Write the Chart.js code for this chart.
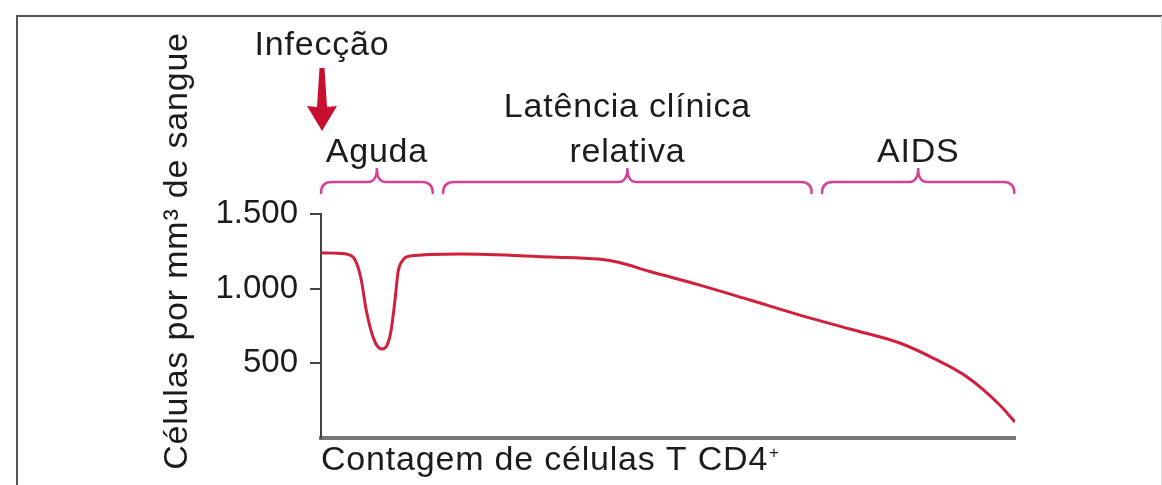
<!DOCTYPE html>
<html>
<head>
<meta charset="utf-8">
<script src="https://cdn.jsdelivr.net/npm/chart.js@4.4.1/dist/chart.umd.min.js"></script>
<style>
  html, body { margin: 0; padding: 0; background: #fff; }
  #wrap { width: 1162px; height: 485px; position: relative; }
</style>
</head>
<body>
<div id="wrap"><canvas id="chart"></canvas></div>
<script>
// tempo after infection (arbitrary units, axis has no ticks) and CD4 count
const tempo = [0, 2, 4.2, 5, 5.8, 6.5, 7.4, 8.2, 8.8, 9.5, 10.1, 10.7, 11.1, 11.7, 12.8,
  20, 33, 40, 42.7, 47.4, 54.6, 61.8, 69, 76.2, 83.4, 88.2, 93.1, 97.8, 100];
const celulasCD4 = [1240, 1238, 1225, 1185, 1060, 860, 690, 610, 596, 620, 720, 940, 1110, 1185, 1218,
  1232, 1212, 1198, 1178, 1115, 1024, 924, 823, 730, 636, 535, 408, 221, 107];
const yTicks = [500, 1000, 1500];

// phases shown with braces above the plot
const fases = ['Aguda', 'Latência clínica|relativa', 'AIDS'];
const faseInicio = [0, 17.6, 72.2];
const faseFim = [16.1, 70.7, 99.9];
const infeccao = 0;

const FONT = '"Liberation Sans", Arial, Helvetica, sans-serif';
const TEXT = '#1c1c1c';
const RED = '#d0203c';
const MAGENTA = '#d6409a';

const annotations = {
  id: 'annotations',
  beforeDraw(chart) {
    const ctx = chart.ctx;
    ctx.save();
    // outer frame (top + left), faint right edge
    ctx.strokeStyle = '#555';
    ctx.lineWidth = 2;
    ctx.beginPath();
    ctx.moveTo(17, 485);
    ctx.lineTo(17, 16);
    ctx.lineTo(1162, 16);
    ctx.stroke();
    ctx.strokeStyle = '#ddd';
    ctx.lineWidth = 1;
    ctx.beginPath();
    ctx.moveTo(1161.5, 16);
    ctx.lineTo(1161.5, 485);
    ctx.stroke();
    ctx.restore();
  },
  afterDraw(chart) {
    const ctx = chart.ctx;
    const xs = chart.scales.x;
    ctx.save();
    ctx.fillStyle = TEXT;
    ctx.font = '34px ' + FONT;
    ctx.letterSpacing = '0.8px';
    ctx.textAlign = 'center';
    ctx.textBaseline = 'alphabetic';

    // infection marker
    const ix = xs.getPixelForValue(infeccao) + 1;
    ctx.fillText('Infecção', ix, 55);
    ctx.fillStyle = '#c8102e';
    ctx.beginPath();
    ctx.moveTo(ix - 2.5, 68);
    ctx.lineTo(ix + 2.5, 68);
    ctx.lineTo(ix + 5, 107);
    ctx.lineTo(ix + 15, 106);
    ctx.lineTo(ix, 131);
    ctx.lineTo(ix - 15, 106);
    ctx.lineTo(ix - 5, 107);
    ctx.closePath();
    ctx.fill();

    // phase braces and labels
    ctx.strokeStyle = MAGENTA;
    ctx.lineWidth = 2.5;
    ctx.lineCap = 'round';
    fases.forEach((nome, i) => {
      const x1 = xs.getPixelForValue(faseInicio[i]);
      const x2 = xs.getPixelForValue(faseFim[i]);
      const xm = (x1 + x2) / 2;
      const yb = 182, ye = 193, yt = 168;
      ctx.beginPath();
      ctx.moveTo(x1, ye);
      ctx.quadraticCurveTo(x1, yb, x1 + 11, yb);
      ctx.lineTo(xm - 9, yb);
      ctx.quadraticCurveTo(xm, yb, xm, yt);
      ctx.quadraticCurveTo(xm, yb, xm + 9, yb);
      ctx.lineTo(x2 - 11, yb);
      ctx.quadraticCurveTo(x2, yb, x2, ye);
      ctx.stroke();

      ctx.fillStyle = TEXT;
      const linhas = nome.split('|');
      linhas.forEach((t, j) => {
        ctx.fillText(t, xm, 162 - (linhas.length - 1 - j) * 45);
      });
    });

    // axis titles
    ctx.textAlign = 'left';
    ctx.fillText('Contagem de células T CD4', 321, 470);
    const w = ctx.measureText('Contagem de células T CD4').width;
    ctx.font = '17px ' + FONT;
    ctx.fillText('+', 321 + w + 1, 458);

    ctx.font = '34px ' + FONT;
    ctx.textAlign = 'center';
    ctx.translate(187, 251);
    ctx.rotate(-Math.PI / 2);
    ctx.fillText('Células por mm³ de sangue', 0, 0);
    ctx.restore();
  }
};

new Chart(document.getElementById('chart'), {
  type: 'line',
  data: {
    datasets: [{
      data: tempo.map((t, i) => ({ x: t, y: celulasCD4[i] })),
      borderColor: RED,
      borderWidth: 3,
      pointRadius: 0,
      cubicInterpolationMode: 'monotone',
      fill: false
    }]
  },
  options: {
    responsive: true,
    maintainAspectRatio: false,
    animation: false,
    devicePixelRatio: 1,
    layout: { padding: { top: 214, right: 147, left: 0, bottom: 0 } },
    plugins: { legend: { display: false }, tooltip: { enabled: false } },
    scales: {
      x: {
        type: 'linear',
        min: 0,
        max: 100,
        ticks: { display: false },
        grid: { display: false },
        border: { display: true, color: '#777', width: 4 },
        afterFit: s => { s.height = 47; }
      },
      y: {
        min: 0,
        max: 1500,
        afterBuildTicks: axis => { axis.ticks = yTicks.map(v => ({ value: v })); },
        ticks: {
          color: TEXT,
          font: { family: FONT, size: 33 },
          padding: 12,
          callback: v => v.toLocaleString('pt-BR')
        },
        grid: { drawOnChartArea: false, drawTicks: true, tickLength: 11, color: '#444', lineWidth: 2 },
        border: { display: true, color: '#444', width: 2 },
        afterFit: s => { s.width = 321; }
      }
    }
  },
  plugins: [annotations]
});
</script>
</body>
</html>
